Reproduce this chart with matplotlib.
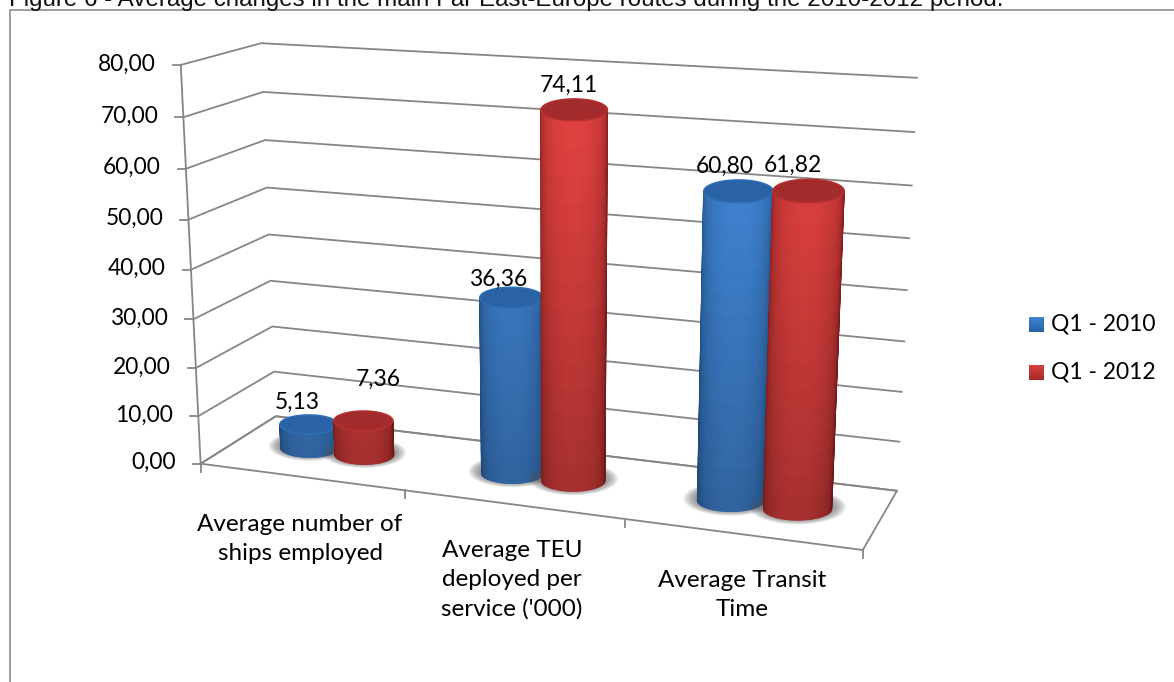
import numpy as np
import matplotlib
matplotlib.use("Agg")
import matplotlib.pyplot as plt
from matplotlib.collections import PolyCollection
from matplotlib.patches import Polygon

# ── data ──
categories = ["Average number of\nships employed",
              "Average TEU\ndeployed per\nservice ('000)",
              "Average Transit\nTime"]
series_names = ["Q1 - 2010", "Q1 - 2012"]
q1_2010 = [5.13, 36.36, 60.80]
q1_2012 = [7.36, 74.11, 61.82]
y_ticks = [0, 10, 20, 30, 40, 50, 60, 70, 80]

title = "Figure 6 - Average changes in the main Far East-Europe routes during the 2010-2012 period."

# ── 3D box of the chart: pixel spots of its corners (x along, y deep, value) ──
corners_world = np.array([
    [0, 0, 0], [0, 0, 80], [0, 1, 0], [0, 1, 80],
    [1, 1, 0], [1, 1, 80], [1, 0, 0], [0.3333, 0, 0], [0.6667, 0, 0],
], float)
corners_px = np.array([
    [201, 461], [181, 65], [276, 417], [261, 43],
    [897, 490], [917, 78], [863, 548], [404, 492], [625, 522],
], float)


def fit_camera(world, px):
    rows = []
    for (X, Y, Z), (u, v) in zip(world, px):
        rows.append([X, Y, Z / 80, 1, 0, 0, 0, 0, -u * X, -u * Y, -u * Z / 80, -u])
        rows.append([0, 0, 0, 0, X, Y, Z / 80, 1, -v * X, -v * Y, -v * Z / 80, -v])
    _, _, vt = np.linalg.svd(np.array(rows))
    return vt[-1].reshape(3, 4)


P = fit_camera(corners_world, corners_px)


def project(X, Y, Z):
    X, Y, Z = np.broadcast_arrays(np.asarray(X, float), np.asarray(Y, float), np.asarray(Z, float))
    pts = np.stack([X, Y, Z / 80, np.ones_like(X)], axis=-1) @ P.T
    return pts[..., 0] / pts[..., 2], pts[..., 1] / pts[..., 2]


# ── style ──
FONT = "Lato"
TXT_NUM = 16.4
TXT_CAT = 17.5
TXT_LEG = 16.5
GREY = "#868686"
BLUE = dict(dark="#1d4a80", light="#3f83d2", top="#2a62a6", rim="#2f6fb8")
RED = dict(dark="#7e1c1c", light="#da3f3d", top="#a32b2b", rim="#b83030")
BAR_RX = 0.049
BAR_Y = 0.5
BAR_Z_FIX = 0.987       # bars stand a touch lower than the fitted box says
ELLIPSE_RATIO = 0.33    # minor / major of the cylinder ends on screen
BAR_X = [[0.1205, 0.2125], [0.4530, 0.5480], [0.7855, 0.8825]]
LABEL_SHIFT = [[(-12, -22), (15, -41)], [(-12, -16), (-5, -19)], [(-14, -21), (-16, -21)]]

fig = plt.figure(figsize=(11.74, 6.82), dpi=100)
ax = fig.add_axes([0, 0, 1, 1])
ax.set_xlim(0, 1174)
ax.set_ylim(682, 0)
ax.axis("off")

# page furniture
ax.plot([9.5, 9.5, 1174], [682, 10, 10], color="#8c8c8c", lw=1.2, zorder=1)
ax.text(9, 6, title, family="Liberation Sans", fontsize=17.4, color="#111111",
        ha="left", va="baseline", clip_on=False)

# walls and gridlines
for z in y_ticks:
    u, v = project([0, 0, 1], [0, 1, 1], z)
    ax.plot(u, v, color=GREY, lw=1.3, zorder=2, solid_joinstyle="miter")
    tx, ty = project(0, 0, z)
    ax.plot([tx - 8, tx], [ty, ty], color=GREY, lw=1.3, zorder=2)
    ax.text(tx - 25, ty - 1, f"{z:.2f}".replace(".", ","), family=FONT, fontsize=TXT_NUM,
            ha="right", va="center", color="#000000")

u, v = project([0, 0], [0, 0], [0, 80])
ax.plot(u, v, color=GREY, lw=1.3, zorder=2)
u, v = project([0, 1, 1, 0, 0], [0, 0, 1, 1, 0], 0)
ax.plot(u, v, color=GREY, lw=1.3, zorder=2)
for x_t in [0, 1 / 3, 2 / 3, 1]:
    tx, ty = project(x_t, 0, 0)
    ax.plot([tx, tx], [ty, ty + 8], color=GREY, lw=1.3, zorder=2)

# category labels
cat_pos = [(300, 539), (512, 580), (742, 595)]
for name, (cx, cy) in zip(categories, cat_pos):
    ax.text(cx, cy, name, family=FONT, fontsize=TXT_CAT, ha="center", va="center",
            linespacing=1.47, color="#000000")


def to_rgb(c):
    return np.array(matplotlib.colors.to_rgb(c))


def end_ellipse(x0, z):
    # centre and half width on screen at height z, ellipse kept level
    z = z * BAR_Z_FIX
    cx, cy = project(x0, BAR_Y, z)
    left, _ = project(x0 - BAR_RX, BAR_Y, z)
    right, _ = project(x0 + BAR_RX, BAR_Y, z)
    return cx, cy, (right - left) / 2


def cylinder(x0, value, pal, z):
    th = np.linspace(0, 2 * np.pi, 80)

    # soft shadow on the floor
    cx, cy, rx = end_ellipse(x0, 0)
    for grow in np.linspace(1.42, 1.02, 10):
        ax.add_patch(Polygon(np.c_[cx + rx * grow * np.cos(th),
                                   cy - 2 + rx * ELLIPSE_RATIO * grow * 1.1 * np.sin(th)],
                             closed=True, fc="#555555", ec="none", alpha=0.09, zorder=z))

    # side wall as shaded strips, front half only
    n_t, n_z = 48, 14
    thetas = np.linspace(np.pi, 0, n_t + 1)
    zs = np.linspace(0, value, n_z + 1)
    dark, light = to_rgb(pal["dark"]), to_rgb(pal["light"])
    polys, cols = [], []
    for i in range(n_t):
        s = np.sin(np.pi * (i + 0.5) / n_t) ** 0.6
        for j in range(n_z):
            c0x, c0y, r0 = end_ellipse(x0, zs[j])
            c1x, c1y, r1 = end_ellipse(x0, zs[j + 1])
            a0, a1 = thetas[i], thetas[i + 1]
            polys.append([
                (c0x + r0 * np.cos(a0), c0y + r0 * ELLIPSE_RATIO * np.sin(a0)),
                (c0x + r0 * np.cos(a1), c0y + r0 * ELLIPSE_RATIO * np.sin(a1)),
                (c1x + r1 * np.cos(a1), c1y + r1 * ELLIPSE_RATIO * np.sin(a1)),
                (c1x + r1 * np.cos(a0), c1y + r1 * ELLIPSE_RATIO * np.sin(a0)),
            ])
            shade = 0.76 + 0.30 * (zs[j] + zs[j + 1]) / 2 / 80
            cols.append(np.clip((dark + s * (light - dark)) * shade, 0, 1))
    ax.add_collection(PolyCollection(polys, facecolors=cols, edgecolors=cols, linewidths=0.7, zorder=z + 0.1))

    # cap
    cx, cy, rx = end_ellipse(x0, value)
    ax.add_patch(Polygon(np.c_[cx + rx * np.cos(th), cy + rx * ELLIPSE_RATIO * np.sin(th)],
                         closed=True, fc=pal["top"], ec=pal["rim"], lw=1.0, zorder=z + 0.2))


# bars, left to right
for i in range(len(categories)):
    for k, (vals, pal) in enumerate(zip([q1_2010, q1_2012], [BLUE, RED])):
        x0 = BAR_X[i][k]
        cylinder(x0, vals[i], pal, 3 + i * 2 + k)
        lx, ly = project(x0, BAR_Y, vals[i])
        dx, dy = LABEL_SHIFT[i][k]
        ax.text(lx + dx, ly + dy, f"{vals[i]:.2f}".replace(".", ","), family=FONT, fontsize=TXT_NUM,
                ha="center", va="center", color="#000000", zorder=20)

# legend
legend_y = [324, 372]
for name, ly, pal in zip(series_names, legend_y, [BLUE, RED]):
    grad = np.linspace(to_rgb(pal["light"]), to_rgb(pal["top"]), 16)[:, None, :]
    ax.imshow(grad, extent=(1029, 1044, ly + 8, ly - 7), aspect="auto", zorder=5, interpolation="bilinear")
    ax.text(1051, ly, name, family=FONT, fontsize=TXT_LEG, ha="left", va="center", color="#000000")
ax.set_xlim(0, 1174)
ax.set_ylim(682, 0)

fig.savefig("out.png", dpi=100)
